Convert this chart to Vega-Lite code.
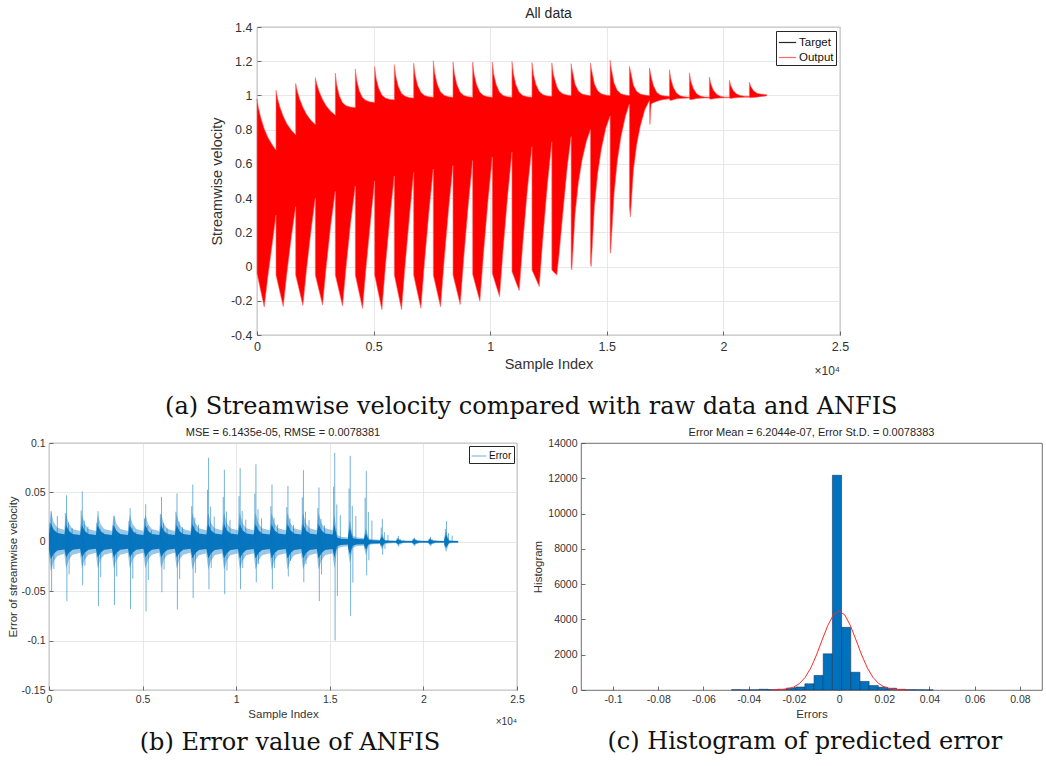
{
  "$schema": "https://vega.github.io/schema/vega-lite/v6.json",
  "background": "white",
  "padding": {"left": 6, "top": 6, "right": 0, "bottom": 0},
  "datasets": {
    "top": [
      {"x":0,"lo":-0.04,"hi":0.98},{"x":65,"lo":-0.081,"hi":0.926},{"x":170,"lo":-0.148,"hi":0.866},{"x":310,"lo":-0.236,"hi":0.806},{"x":465,"lo":-0.059,"hi":0.755},{"x":660,"lo":0.139,"hi":0.71},{"x":814,"lo":0.3,"hi":0.68},
      {"x":815,"lo":-0.05,"hi":1.03},{"x":880,"lo":-0.089,"hi":0.983},{"x":985,"lo":-0.151,"hi":0.931},{"x":1125,"lo":-0.234,"hi":0.879},{"x":1280,"lo":-0.041,"hi":0.835},{"x":1475,"lo":0.175,"hi":0.796},{"x":1657,"lo":0.35,"hi":0.77},
      {"x":1658,"lo":-0.05,"hi":1.07},{"x":1723,"lo":-0.087,"hi":1.027},{"x":1828,"lo":-0.147,"hi":0.979},{"x":1968,"lo":-0.227,"hi":0.931},{"x":2123,"lo":-0.02,"hi":0.89},{"x":2318,"lo":0.212,"hi":0.854},{"x":2500,"lo":0.4,"hi":0.83},
      {"x":2501,"lo":-0.05,"hi":1.105},{"x":2566,"lo":-0.087,"hi":1.065},{"x":2671,"lo":-0.146,"hi":1.021},{"x":2811,"lo":-0.225,"hi":0.977},{"x":2966,"lo":-0.006,"hi":0.94},{"x":3161,"lo":0.241,"hi":0.907},{"x":3357,"lo":0.44,"hi":0.885},
      {"x":3358,"lo":-0.05,"hi":1.13},{"x":3423,"lo":-0.088,"hi":1.06},{"x":3528,"lo":-0.149,"hi":1.0},{"x":3668,"lo":-0.23,"hi":0.958},{"x":3823,"lo":0.001,"hi":0.94},{"x":4018,"lo":0.26,"hi":0.932},{"x":4215,"lo":0.47,"hi":0.93},
      {"x":4216,"lo":-0.05,"hi":1.155},{"x":4281,"lo":-0.091,"hi":1.087},{"x":4386,"lo":-0.157,"hi":1.028},{"x":4526,"lo":-0.245,"hi":0.987},{"x":4681,"lo":0.001,"hi":0.97},{"x":4876,"lo":0.277,"hi":0.962},{"x":5044,"lo":0.5,"hi":0.96},
      {"x":5045,"lo":-0.05,"hi":1.168},{"x":5110,"lo":-0.092,"hi":1.1},{"x":5215,"lo":-0.161,"hi":1.043},{"x":5355,"lo":-0.252,"hi":1.002},{"x":5510,"lo":0.006,"hi":0.985},{"x":5705,"lo":0.295,"hi":0.977},{"x":5888,"lo":0.53,"hi":0.975},
      {"x":5889,"lo":-0.05,"hi":1.18},{"x":5954,"lo":-0.092,"hi":1.112},{"x":6059,"lo":-0.161,"hi":1.053},{"x":6199,"lo":-0.252,"hi":1.012},{"x":6354,"lo":0.013,"hi":0.995},{"x":6549,"lo":0.309,"hi":0.987},{"x":6717,"lo":0.55,"hi":0.985},
      {"x":6718,"lo":-0.05,"hi":1.188},{"x":6783,"lo":-0.091,"hi":1.119},{"x":6888,"lo":-0.157,"hi":1.059},{"x":7028,"lo":-0.244,"hi":1.018},{"x":7183,"lo":0.025,"hi":1.0},{"x":7378,"lo":0.326,"hi":0.992},{"x":7560,"lo":0.57,"hi":0.99},
      {"x":7561,"lo":-0.05,"hi":1.203},{"x":7626,"lo":-0.089,"hi":1.128},{"x":7731,"lo":-0.152,"hi":1.065},{"x":7871,"lo":-0.236,"hi":1.02},{"x":8026,"lo":0.037,"hi":1.001},{"x":8221,"lo":0.342,"hi":0.992},{"x":8404,"lo":0.59,"hi":0.99},
      {"x":8405,"lo":-0.05,"hi":1.196},{"x":8470,"lo":-0.086,"hi":1.124},{"x":8575,"lo":-0.145,"hi":1.062},{"x":8715,"lo":-0.222,"hi":1.019},{"x":8870,"lo":0.056,"hi":1.0},{"x":9065,"lo":0.367,"hi":0.992},{"x":9247,"lo":0.62,"hi":0.99},
      {"x":9248,"lo":-0.045,"hi":1.195},{"x":9313,"lo":-0.078,"hi":1.123},{"x":9418,"lo":-0.132,"hi":1.062},{"x":9558,"lo":-0.203,"hi":1.019},{"x":9713,"lo":0.075,"hi":1.0},{"x":9908,"lo":0.387,"hi":0.992},{"x":10090,"lo":0.64,"hi":0.99},
      {"x":10091,"lo":-0.04,"hi":1.195},{"x":10156,"lo":-0.069,"hi":1.123},{"x":10261,"lo":-0.115,"hi":1.062},{"x":10401,"lo":-0.176,"hi":1.019},{"x":10556,"lo":0.103,"hi":1.0},{"x":10751,"lo":0.416,"hi":0.992},{"x":10933,"lo":0.67,"hi":0.99},
      {"x":10934,"lo":-0.03,"hi":1.198},{"x":10999,"lo":-0.053,"hi":1.125},{"x":11104,"lo":-0.091,"hi":1.063},{"x":11244,"lo":-0.14,"hi":1.019},{"x":11399,"lo":0.137,"hi":1.0},{"x":11594,"lo":0.448,"hi":0.992},{"x":11791,"lo":0.7,"hi":0.99},
      {"x":11792,"lo":-0.02,"hi":1.192},{"x":11857,"lo":-0.04,"hi":1.123},{"x":11962,"lo":-0.073,"hi":1.064},{"x":12102,"lo":-0.117,"hi":1.023},{"x":12257,"lo":0.163,"hi":1.005},{"x":12452,"lo":0.476,"hi":0.997},{"x":12642,"lo":0.73,"hi":0.995},
      {"x":12643,"lo":-0.02,"hi":1.19},{"x":12708,"lo":-0.03,"hi":1.124},{"x":12857,"lo":-0.05,"hi":1.053},{"x":12953,"lo":0.07,"hi":1.027},{"x":13108,"lo":0.3,"hi":1.01},{"x":13303,"lo":0.58,"hi":1.002},{"x":13470,"lo":0.76,"hi":1.0},
      {"x":13471,"lo":0.0,"hi":1.186},{"x":13501,"lo":-0.02,"hi":1.16},{"x":13641,"lo":0.308,"hi":1.065},{"x":13781,"lo":0.488,"hi":1.026},{"x":13936,"lo":0.62,"hi":1.009},{"x":14131,"lo":0.734,"hi":1.002},{"x":14299,"lo":0.8,"hi":1.0},
      {"x":14300,"lo":0.02,"hi":1.19},{"x":14330,"lo":0.0,"hi":1.163},{"x":14470,"lo":0.352,"hi":1.067},{"x":14610,"lo":0.546,"hi":1.027},{"x":14765,"lo":0.686,"hi":1.01},{"x":14960,"lo":0.81,"hi":1.002},{"x":15142,"lo":0.88,"hi":1.0},
      {"x":15143,"lo":0.1,"hi":1.206},{"x":15163,"lo":0.078,"hi":1.18},{"x":15313,"lo":0.427,"hi":1.072},{"x":15453,"lo":0.619,"hi":1.029},{"x":15608,"lo":0.758,"hi":1.01},{"x":15803,"lo":0.88,"hi":1.002},{"x":15970,"lo":0.95,"hi":1.0},
      {"x":15971,"lo":0.35,"hi":1.171},{"x":16011,"lo":0.29,"hi":1.147},{"x":16141,"lo":0.562,"hi":1.06},{"x":16281,"lo":0.712,"hi":1.024},{"x":16436,"lo":0.82,"hi":1.009},{"x":16631,"lo":0.916,"hi":1.002},{"x":16828,"lo":0.97,"hi":1.0},
      {"x":16829,"lo":0.96,"hi":1.161},{"x":16849,"lo":0.83,"hi":1.152},{"x":16900,"lo":0.95,"hi":1.111},{"x":17000,"lo":0.958,"hi":1.058},{"x":17139,"lo":0.965,"hi":1.018},{"x":17294,"lo":0.972,"hi":1.003},{"x":17489,"lo":0.977,"hi":0.997},{"x":17685,"lo":0.98,"hi":0.995},
      {"x":17686,"lo":0.975,"hi":1.151},{"x":17751,"lo":0.97,"hi":1.095},{"x":17856,"lo":0.975,"hi":1.046},{"x":17996,"lo":0.98,"hi":1.013},{"x":18151,"lo":0.982,"hi":0.998},{"x":18346,"lo":0.984,"hi":0.992},{"x":18542,"lo":0.985,"hi":0.99},
      {"x":18543,"lo":0.978,"hi":1.132},{"x":18608,"lo":0.975,"hi":1.082},{"x":18713,"lo":0.978,"hi":1.04},{"x":18853,"lo":0.982,"hi":1.01},{"x":19008,"lo":0.984,"hi":0.997},{"x":19203,"lo":0.985,"hi":0.991},{"x":19399,"lo":0.985,"hi":0.99},
      {"x":19400,"lo":0.98,"hi":1.108},{"x":19465,"lo":0.978,"hi":1.067},{"x":19570,"lo":0.98,"hi":1.031},{"x":19710,"lo":0.983,"hi":1.007},{"x":19865,"lo":0.985,"hi":0.996},{"x":20060,"lo":0.986,"hi":0.991},{"x":20256,"lo":0.986,"hi":0.99},
      {"x":20257,"lo":0.985,"hi":1.089},{"x":20322,"lo":0.982,"hi":1.056},{"x":20427,"lo":0.985,"hi":1.028},{"x":20567,"lo":0.987,"hi":1.008},{"x":20722,"lo":0.988,"hi":1.0},{"x":20917,"lo":0.989,"hi":0.996},{"x":21113,"lo":0.99,"hi":0.995},
      {"x":21114,"lo":0.988,"hi":1.077},{"x":21179,"lo":0.986,"hi":1.052},{"x":21284,"lo":0.988,"hi":1.029},{"x":21424,"lo":0.99,"hi":1.014},{"x":21579,"lo":0.993,"hi":1.008},{"x":21774,"lo":0.996,"hi":1.006},{"x":21857,"lo":0.998,"hi":1.005}
    ],
    "err": [
      {"x":0,"olo":-0.0132,"ohi":0.0132,"ilo":-0.0077,"ihi":0.0077},{"x":100,"olo":-0.0297,"ohi":0.0308,"ilo":-0.0176,"ihi":0.0187},{"x":250,"olo":-0.0198,"ohi":0.0198,"ilo":-0.0121,"ihi":0.0121},{"x":450,"olo":-0.0143,"ohi":0.0143,"ilo":-0.0088,"ihi":0.0088},{"x":814,"olo":-0.0121,"ohi":0.0121,"ilo":-0.0077,"ihi":0.0077},
      {"x":815,"olo":-0.012,"ohi":0.012,"ilo":-0.007,"ihi":0.007},{"x":915,"olo":-0.027,"ohi":0.028,"ilo":-0.016,"ihi":0.017},{"x":1065,"olo":-0.018,"ohi":0.018,"ilo":-0.011,"ihi":0.011},{"x":1265,"olo":-0.013,"ohi":0.013,"ilo":-0.008,"ihi":0.008},{"x":1657,"olo":-0.011,"ohi":0.011,"ilo":-0.007,"ihi":0.007},
      {"x":1658,"olo":-0.012,"ohi":0.012,"ilo":-0.007,"ihi":0.007},{"x":1758,"olo":-0.027,"ohi":0.028,"ilo":-0.016,"ihi":0.017},{"x":1908,"olo":-0.018,"ohi":0.018,"ilo":-0.011,"ihi":0.011},{"x":2108,"olo":-0.013,"ohi":0.013,"ilo":-0.008,"ihi":0.008},{"x":2500,"olo":-0.011,"ohi":0.011,"ilo":-0.007,"ihi":0.007},
      {"x":2501,"olo":-0.012,"ohi":0.012,"ilo":-0.007,"ihi":0.007},{"x":2601,"olo":-0.027,"ohi":0.028,"ilo":-0.016,"ihi":0.017},{"x":2751,"olo":-0.018,"ohi":0.018,"ilo":-0.011,"ihi":0.011},{"x":2951,"olo":-0.013,"ohi":0.013,"ilo":-0.008,"ihi":0.008},{"x":3357,"olo":-0.011,"ohi":0.011,"ilo":-0.007,"ihi":0.007},
      {"x":3358,"olo":-0.012,"ohi":0.012,"ilo":-0.007,"ihi":0.007},{"x":3458,"olo":-0.027,"ohi":0.028,"ilo":-0.016,"ihi":0.017},{"x":3608,"olo":-0.018,"ohi":0.018,"ilo":-0.011,"ihi":0.011},{"x":3808,"olo":-0.013,"ohi":0.013,"ilo":-0.008,"ihi":0.008},{"x":4215,"olo":-0.011,"ohi":0.011,"ilo":-0.007,"ihi":0.007},
      {"x":4216,"olo":-0.012,"ohi":0.012,"ilo":-0.007,"ihi":0.007},{"x":4316,"olo":-0.027,"ohi":0.028,"ilo":-0.016,"ihi":0.017},{"x":4466,"olo":-0.018,"ohi":0.018,"ilo":-0.011,"ihi":0.011},{"x":4666,"olo":-0.013,"ohi":0.013,"ilo":-0.008,"ihi":0.008},{"x":5044,"olo":-0.011,"ohi":0.011,"ilo":-0.007,"ihi":0.007},
      {"x":5045,"olo":-0.012,"ohi":0.012,"ilo":-0.007,"ihi":0.007},{"x":5145,"olo":-0.027,"ohi":0.028,"ilo":-0.016,"ihi":0.017},{"x":5295,"olo":-0.018,"ohi":0.018,"ilo":-0.011,"ihi":0.011},{"x":5495,"olo":-0.013,"ohi":0.013,"ilo":-0.008,"ihi":0.008},{"x":5888,"olo":-0.011,"ohi":0.011,"ilo":-0.007,"ihi":0.007},
      {"x":5889,"olo":-0.012,"ohi":0.012,"ilo":-0.007,"ihi":0.007},{"x":5989,"olo":-0.027,"ohi":0.028,"ilo":-0.016,"ihi":0.017},{"x":6139,"olo":-0.018,"ohi":0.018,"ilo":-0.011,"ihi":0.011},{"x":6339,"olo":-0.013,"ohi":0.013,"ilo":-0.008,"ihi":0.008},{"x":6717,"olo":-0.011,"ohi":0.011,"ilo":-0.007,"ihi":0.007},
      {"x":6718,"olo":-0.012,"ohi":0.012,"ilo":-0.007,"ihi":0.007},{"x":6818,"olo":-0.027,"ohi":0.028,"ilo":-0.016,"ihi":0.017},{"x":6968,"olo":-0.018,"ohi":0.018,"ilo":-0.011,"ihi":0.011},{"x":7168,"olo":-0.013,"ohi":0.013,"ilo":-0.008,"ihi":0.008},{"x":7560,"olo":-0.011,"ohi":0.011,"ilo":-0.007,"ihi":0.007},
      {"x":7561,"olo":-0.0126,"ohi":0.0126,"ilo":-0.0074,"ihi":0.0074},{"x":7661,"olo":-0.0284,"ohi":0.0294,"ilo":-0.0168,"ihi":0.0179},{"x":7811,"olo":-0.0189,"ohi":0.0189,"ilo":-0.0116,"ihi":0.0116},{"x":8011,"olo":-0.0137,"ohi":0.0137,"ilo":-0.0084,"ihi":0.0084},{"x":8404,"olo":-0.0116,"ohi":0.0116,"ilo":-0.0074,"ihi":0.0074},
      {"x":8405,"olo":-0.0126,"ohi":0.0126,"ilo":-0.0074,"ihi":0.0074},{"x":8505,"olo":-0.0284,"ohi":0.0294,"ilo":-0.0168,"ihi":0.0179},{"x":8655,"olo":-0.0189,"ohi":0.0189,"ilo":-0.0116,"ihi":0.0116},{"x":8855,"olo":-0.0137,"ohi":0.0137,"ilo":-0.0084,"ihi":0.0084},{"x":9247,"olo":-0.0116,"ohi":0.0116,"ilo":-0.0074,"ihi":0.0074},
      {"x":9248,"olo":-0.0126,"ohi":0.0126,"ilo":-0.0074,"ihi":0.0074},{"x":9348,"olo":-0.0284,"ohi":0.0294,"ilo":-0.0168,"ihi":0.0179},{"x":9498,"olo":-0.0189,"ohi":0.0189,"ilo":-0.0116,"ihi":0.0116},{"x":9698,"olo":-0.0137,"ohi":0.0137,"ilo":-0.0084,"ihi":0.0084},{"x":10090,"olo":-0.0116,"ohi":0.0116,"ilo":-0.0074,"ihi":0.0074},
      {"x":10091,"olo":-0.0126,"ohi":0.0126,"ilo":-0.0074,"ihi":0.0074},{"x":10191,"olo":-0.0284,"ohi":0.0294,"ilo":-0.0168,"ihi":0.0179},{"x":10341,"olo":-0.0189,"ohi":0.0189,"ilo":-0.0116,"ihi":0.0116},{"x":10541,"olo":-0.0137,"ohi":0.0137,"ilo":-0.0084,"ihi":0.0084},{"x":10933,"olo":-0.0116,"ohi":0.0116,"ilo":-0.0074,"ihi":0.0074},
      {"x":10934,"olo":-0.0126,"ohi":0.0126,"ilo":-0.0074,"ihi":0.0074},{"x":11034,"olo":-0.0284,"ohi":0.0294,"ilo":-0.0168,"ihi":0.0179},{"x":11184,"olo":-0.0189,"ohi":0.0189,"ilo":-0.0116,"ihi":0.0116},{"x":11384,"olo":-0.0137,"ohi":0.0137,"ilo":-0.0084,"ihi":0.0084},{"x":11791,"olo":-0.0116,"ohi":0.0116,"ilo":-0.0074,"ihi":0.0074},
      {"x":11792,"olo":-0.0126,"ohi":0.0126,"ilo":-0.0074,"ihi":0.0074},{"x":11892,"olo":-0.0284,"ohi":0.0294,"ilo":-0.0168,"ihi":0.0179},{"x":12042,"olo":-0.0189,"ohi":0.0189,"ilo":-0.0116,"ihi":0.0116},{"x":12242,"olo":-0.0137,"ohi":0.0137,"ilo":-0.0084,"ihi":0.0084},{"x":12642,"olo":-0.0116,"ohi":0.0116,"ilo":-0.0074,"ihi":0.0074},
      {"x":12643,"olo":-0.0126,"ohi":0.0126,"ilo":-0.0074,"ihi":0.0074},{"x":12743,"olo":-0.0284,"ohi":0.0294,"ilo":-0.0168,"ihi":0.0179},{"x":12893,"olo":-0.0189,"ohi":0.0189,"ilo":-0.0116,"ihi":0.0116},{"x":13093,"olo":-0.0137,"ohi":0.0137,"ilo":-0.0084,"ihi":0.0084},{"x":13470,"olo":-0.0116,"ohi":0.0116,"ilo":-0.0074,"ihi":0.0074},
      {"x":13471,"olo":-0.0126,"ohi":0.0126,"ilo":-0.0074,"ihi":0.0074},{"x":13571,"olo":-0.0284,"ohi":0.0294,"ilo":-0.0168,"ihi":0.0179},{"x":13721,"olo":-0.0189,"ohi":0.0189,"ilo":-0.0116,"ihi":0.0116},{"x":13921,"olo":-0.0137,"ohi":0.0137,"ilo":-0.0084,"ihi":0.0084},{"x":14299,"olo":-0.0116,"ohi":0.0116,"ilo":-0.0074,"ihi":0.0074},
      {"x":14300,"olo":-0.0126,"ohi":0.0126,"ilo":-0.0074,"ihi":0.0074},{"x":14400,"olo":-0.0284,"ohi":0.0294,"ilo":-0.0168,"ihi":0.0179},{"x":14550,"olo":-0.0189,"ohi":0.0189,"ilo":-0.0116,"ihi":0.0116},{"x":14750,"olo":-0.0137,"ohi":0.0137,"ilo":-0.0084,"ihi":0.0084},{"x":15142,"olo":-0.0116,"ohi":0.0116,"ilo":-0.0074,"ihi":0.0074},
      {"x":15143,"olo":-0.012,"ohi":0.012,"ilo":-0.007,"ihi":0.007},{"x":15243,"olo":-0.027,"ohi":0.028,"ilo":-0.016,"ihi":0.017},{"x":15393,"olo":-0.0072,"ohi":0.0072,"ilo":-0.0044,"ihi":0.0044},{"x":15593,"olo":-0.0052,"ohi":0.0052,"ilo":-0.0032,"ihi":0.0032},{"x":15970,"olo":-0.0044,"ohi":0.0044,"ilo":-0.0028,"ihi":0.0028},
      {"x":15971,"olo":-0.0096,"ohi":0.0096,"ilo":-0.0056,"ihi":0.0056},{"x":16071,"olo":-0.0216,"ohi":0.0224,"ilo":-0.0128,"ihi":0.0136},{"x":16221,"olo":-0.0063,"ohi":0.0063,"ilo":-0.0039,"ihi":0.0039},{"x":16421,"olo":-0.0046,"ohi":0.0046,"ilo":-0.0028,"ihi":0.0028},{"x":16828,"olo":-0.0039,"ohi":0.0039,"ilo":-0.0025,"ihi":0.0025},
      {"x":16829,"olo":-0.006,"ohi":0.006,"ilo":-0.0035,"ihi":0.0035},{"x":16929,"olo":-0.0135,"ohi":0.014,"ilo":-0.008,"ihi":0.0085},{"x":17079,"olo":-0.0036,"ohi":0.0036,"ilo":-0.0022,"ihi":0.0022},{"x":17279,"olo":-0.0026,"ohi":0.0026,"ilo":-0.0016,"ihi":0.0016},{"x":17685,"olo":-0.0022,"ohi":0.0022,"ilo":-0.0014,"ihi":0.0014},
      {"x":17686,"olo":-0.0036,"ohi":0.0036,"ilo":-0.0021,"ihi":0.0021},{"x":17786,"olo":-0.0081,"ohi":0.0084,"ilo":-0.0048,"ihi":0.0051},{"x":17936,"olo":-0.0022,"ohi":0.0022,"ilo":-0.0013,"ihi":0.0013},{"x":18136,"olo":-0.0016,"ohi":0.0016,"ilo":-0.001,"ihi":0.001},{"x":18542,"olo":-0.0013,"ohi":0.0013,"ilo":-0.0008,"ihi":0.0008},
      {"x":18543,"olo":-0.0018,"ohi":0.0018,"ilo":-0.001,"ihi":0.001},{"x":18643,"olo":-0.004,"ohi":0.0042,"ilo":-0.0024,"ihi":0.0026},{"x":18793,"olo":-0.0018,"ohi":0.0018,"ilo":-0.0011,"ihi":0.0011},{"x":18993,"olo":-0.0013,"ohi":0.0013,"ilo":-0.0008,"ihi":0.0008},{"x":19399,"olo":-0.0011,"ohi":0.0011,"ilo":-0.0007,"ihi":0.0007},
      {"x":19400,"olo":-0.0018,"ohi":0.0018,"ilo":-0.001,"ihi":0.001},{"x":19500,"olo":-0.004,"ohi":0.0042,"ilo":-0.0024,"ihi":0.0026},{"x":19650,"olo":-0.0018,"ohi":0.0018,"ilo":-0.0011,"ihi":0.0011},{"x":19850,"olo":-0.0013,"ohi":0.0013,"ilo":-0.0008,"ihi":0.0008},{"x":20256,"olo":-0.0011,"ohi":0.0011,"ilo":-0.0007,"ihi":0.0007},
      {"x":20257,"olo":-0.0018,"ohi":0.0018,"ilo":-0.001,"ihi":0.001},{"x":20357,"olo":-0.004,"ohi":0.0042,"ilo":-0.0024,"ihi":0.0026},{"x":20507,"olo":-0.0018,"ohi":0.0018,"ilo":-0.0011,"ihi":0.0011},{"x":20707,"olo":-0.0013,"ohi":0.0013,"ilo":-0.0008,"ihi":0.0008},{"x":21113,"olo":-0.0011,"ohi":0.0011,"ilo":-0.0007,"ihi":0.0007},
      {"x":21114,"olo":-0.0048,"ohi":0.0048,"ilo":-0.0028,"ihi":0.0028},{"x":21214,"olo":-0.0108,"ohi":0.0112,"ilo":-0.0064,"ihi":0.0068},{"x":21364,"olo":-0.0018,"ohi":0.0018,"ilo":-0.0011,"ihi":0.0011},{"x":21564,"olo":-0.0013,"ohi":0.0013,"ilo":-0.0008,"ihi":0.0008},{"x":21857,"olo":-0.0011,"ohi":0.0011,"ilo":-0.0007,"ihi":0.0007}
    ],
    "spk": [
      {"x":60,"v":0.0192},{"x":120,"v":0.031},{"x":230,"v":0.013},{"x":140,"v":-0.05},{"x":260,"v":-0.0275},{"x":445,"v":0.026},
      {"x":875,"v":0.0291},{"x":935,"v":0.047},{"x":1045,"v":0.0197},{"x":955,"v":-0.06},{"x":1075,"v":-0.033},{"x":1235,"v":0.0141},
      {"x":1718,"v":0.0316},{"x":1778,"v":0.051},{"x":1888,"v":0.0214},{"x":1798,"v":-0.044},{"x":1918,"v":-0.0242},{"x":2078,"v":0.0153},
      {"x":2561,"v":0.0192},{"x":2621,"v":0.031},{"x":2731,"v":0.013},{"x":2641,"v":-0.065},{"x":2761,"v":-0.0358},{"x":2921,"v":0.0093},
      {"x":3418,"v":0.0161},{"x":3478,"v":0.026},{"x":3588,"v":0.0109},{"x":3498,"v":-0.064},{"x":3618,"v":-0.0352},{"x":3778,"v":0.0078},
      {"x":4276,"v":0.0211},{"x":4336,"v":0.034},{"x":4446,"v":0.0143},{"x":4356,"v":-0.068},{"x":4476,"v":-0.0374},{"x":4636,"v":0.0102},
      {"x":5105,"v":0.0236},{"x":5165,"v":0.038},{"x":5275,"v":0.016},{"x":5185,"v":-0.0705},{"x":5305,"v":-0.0388},{"x":5465,"v":0.0114},
      {"x":5949,"v":0.0282},{"x":6009,"v":0.0455},{"x":6119,"v":0.0191},{"x":6029,"v":-0.051},{"x":6149,"v":-0.028},{"x":6309,"v":0.0137},
      {"x":6778,"v":0.0304},{"x":6838,"v":0.049},{"x":6948,"v":0.0206},{"x":6858,"v":-0.0685},{"x":6978,"v":-0.0377},{"x":7138,"v":0.0147},
      {"x":7621,"v":0.036},{"x":7681,"v":0.058},{"x":7791,"v":0.0244},{"x":7701,"v":-0.057},{"x":7821,"v":-0.0314},{"x":7981,"v":0.0174},
      {"x":8465,"v":0.0527},{"x":8525,"v":0.085},{"x":8635,"v":0.0357},{"x":8545,"v":-0.048},{"x":8665,"v":-0.0264},{"x":8825,"v":0.0255},
      {"x":9308,"v":0.0453},{"x":9368,"v":0.073},{"x":9478,"v":0.0307},{"x":9388,"v":-0.053},{"x":9508,"v":-0.0292},{"x":9668,"v":0.0219},
      {"x":10151,"v":0.0462},{"x":10211,"v":0.0745},{"x":10321,"v":0.0313},{"x":10231,"v":-0.048},{"x":10351,"v":-0.0264},{"x":10511,"v":0.0224},
      {"x":10994,"v":0.0487},{"x":11054,"v":0.0785},{"x":11164,"v":0.033},{"x":11074,"v":-0.041},{"x":11194,"v":-0.0226},{"x":11354,"v":0.0236},
      {"x":11852,"v":0.036},{"x":11912,"v":0.058},{"x":12022,"v":0.0244},{"x":11932,"v":-0.048},{"x":12052,"v":-0.0264},{"x":12212,"v":0.0174},
      {"x":12703,"v":0.0351},{"x":12763,"v":0.0566},{"x":12873,"v":0.0238},{"x":12783,"v":-0.035},{"x":12903,"v":-0.0193},{"x":13063,"v":0.017},
      {"x":13531,"v":0.045},{"x":13591,"v":0.0725},{"x":13701,"v":0.0305},{"x":13611,"v":-0.041},{"x":13731,"v":-0.0226},{"x":13891,"v":0.0218},
      {"x":14360,"v":0.0341},{"x":14420,"v":0.055},{"x":14530,"v":0.0231},{"x":14440,"v":-0.06},{"x":14560,"v":-0.033},{"x":14720,"v":0.0165},
      {"x":15203,"v":0.0558},{"x":15263,"v":0.09},{"x":15373,"v":0.0378},{"x":15283,"v":-0.1},{"x":15403,"v":-0.055},{"x":15563,"v":0.027},
      {"x":16031,"v":0.0539},{"x":16091,"v":0.087},{"x":16201,"v":0.0365},{"x":16111,"v":-0.075},{"x":16231,"v":-0.0413},{"x":16391,"v":0.0261},
      {"x":16889,"v":0.0445},{"x":16949,"v":0.0717},{"x":17059,"v":0.0301},{"x":16969,"v":-0.034},{"x":17089,"v":-0.0187},{"x":17249,"v":0.0215},
      {"x":17746,"v":0.0143},{"x":17806,"v":0.023},{"x":17916,"v":0.0097},{"x":17826,"v":-0.013},{"x":17946,"v":-0.0072},{"x":18106,"v":0.0069},
      {"x":18603,"v":0.0037},{"x":18663,"v":0.006},{"x":18773,"v":0.0025},{"x":18683,"v":-0.005},{"x":18803,"v":-0.0028},{"x":18963,"v":0.0018},
      {"x":19460,"v":0.0025},{"x":19520,"v":0.004},{"x":19630,"v":0.0017},{"x":19540,"v":-0.004},{"x":19660,"v":-0.0022},{"x":19820,"v":0.0012},
      {"x":20317,"v":0.0031},{"x":20377,"v":0.005},{"x":20487,"v":0.0021},{"x":20397,"v":-0.004},{"x":20517,"v":-0.0022},{"x":20677,"v":0.0015},
      {"x":21174,"v":0.013},{"x":21234,"v":0.021},{"x":21344,"v":0.0088},{"x":21254,"v":-0.003},{"x":21374,"v":-0.0017},{"x":21534,"v":0.0063}
    ],
    "hist": [
      {"x0":-0.04761,"x1":-0.04355,"count":15},{"x0":-0.04355,"x1":-0.03949,"count":5},{"x0":-0.03949,"x1":-0.03543,"count":10},{"x0":-0.03543,"x1":-0.03137,"count":40},
      {"x0":-0.03137,"x1":-0.02731,"count":20},{"x0":-0.02731,"x1":-0.02325,"count":45},{"x0":-0.02325,"x1":-0.01919,"count":110},{"x0":-0.01919,"x1":-0.01513,"count":170},
      {"x0":-0.01513,"x1":-0.01107,"count":350},{"x0":-0.01107,"x1":-0.00701,"count":825},{"x0":-0.00701,"x1":-0.00295,"count":2050},{"x0":-0.00295,"x1":0.00111,"count":12170},
      {"x0":0.00111,"x1":0.00517,"count":3550},{"x0":0.00517,"x1":0.00923,"count":1005},{"x0":0.00923,"x1":0.01329,"count":485},{"x0":0.01329,"x1":0.01735,"count":250},
      {"x0":0.01735,"x1":0.02141,"count":160},{"x0":0.02141,"x1":0.02547,"count":100},{"x0":0.02547,"x1":0.02953,"count":40},{"x0":0.02953,"x1":0.03359,"count":15},
      {"x0":0.03359,"x1":0.03765,"count":10},{"x0":0.03765,"x1":0.04171,"count":5}
    ],
    "curve": [
      {"e":-0.03,"f":3},{"e":-0.0275,"f":9},{"e":-0.025,"f":28},{"e":-0.0225,"f":73},{"e":-0.02,"f":172},{"e":-0.0175,"f":370},{"e":-0.015,"f":717},{"e":-0.0125,"f":1254},{"e":-0.01,"f":1985},{"e":-0.0075,"f":2834},{"e":-0.005,"f":3656},{"e":-0.0025,"f":4258},
      {"e":0,"f":4480},
      {"e":0.0025,"f":4258},{"e":0.005,"f":3656},{"e":0.0075,"f":2834},{"e":0.01,"f":1985},{"e":0.0125,"f":1254},{"e":0.015,"f":717},{"e":0.0175,"f":370},{"e":0.02,"f":172},{"e":0.0225,"f":73},{"e":0.025,"f":28},{"e":0.0275,"f":9},{"e":0.03,"f":3}
    ]
  },
  "vconcat": [
    {
      "hconcat": [
        {"width": 116, "height": 10, "data": {"values": []}, "mark": "point", "view": {"stroke": null}},
        {
          "vconcat": [
            {
              "width": 583, "height": 308,
              "title": {"text": "All data", "fontSize": 14, "offset": 0},
              "layer": [
                {
                  "data": {"name": "top"},
                  "mark": {"type": "area", "fill": "#ff0000", "strokeWidth": 0.6},
                  "encoding": {
                    "x": {"field": "x", "type": "quantitative", "title": "Sample Index", "scale": {"domain": [0, 25000], "nice": false, "zero": false},
                          "axis": {"values": [0, 5000, 10000, 15000, 20000, 25000], "tickCount": 30, "labelExpr": "toString(datum.value/10000)", "grid": true, "labelFontSize": 12.5, "titleFontSize": 14.5, "labelPadding": 9, "titlePadding": 5}},
                    "y": {"field": "lo", "type": "quantitative", "title": "Streamwise velocity", "scale": {"domain": [-0.4, 1.4], "nice": false, "zero": false},
                          "axis": {"values": [-0.4, -0.2, 0, 0.2, 0.4, 0.6, 0.8, 1, 1.2, 1.4], "tickCount": 30, "labelExpr": "toString(datum.value)", "grid": true, "labelFontSize": 12.5, "titleFontSize": 14.5, "labelPadding": 9, "titlePadding": 6}},
                    "y2": {"field": "hi"},
                    "stroke": {"datum": "Output", "scale": {"domain": ["Target", "Output"], "range": ["#262626", "#ff6a6a"]},
                               "legend": {"title": null, "orient": "top-right", "offset": 4, "padding": 2, "strokeColor": "#262626", "fillColor": "white", "labelFontSize": 11.5, "symbolType": "stroke", "symbolSize": 300, "symbolStrokeWidth": 1.2, "rowPadding": 0, "labelOffset": 2}}
                  }
                },
                {
                  "data": {"values": [{}]},
                  "mark": {"type": "text", "align": "right", "baseline": "top", "dy": 31, "fontSize": 12, "color": "#333333"},
                  "encoding": {"x": {"datum": 25000}, "y": {"datum": -0.4}, "text": {"value": "×10⁴"}}
                }
              ]
            }
          ],
          "resolve": {"scale": {"stroke": "independent"}, "legend": {"stroke": "independent"}},
          "title": {"text": "(a) Streamwise velocity compared with raw data and ANFIS", "orient": "bottom", "font": "DejaVu Serif", "fontSize": 24, "color": "#111111", "offset": 18, "dx": -44}
        }
      ],
      "spacing": 0,
      "resolve": {"scale": {"stroke": "independent"}, "legend": {"stroke": "independent"}}
    },
    {
      "hconcat": [
        {
          "vconcat": [
            {
              "width": 468, "height": 247,
              "title": {"text": "MSE = 6.1435e-05, RMSE = 0.0078381", "fontSize": 11, "offset": 0},
              "layer": [
                {
                  "data": {"name": "err"},
                  "mark": {"type": "area", "color": "#0072BD", "opacity": 0.4},
                  "encoding": {
                    "x": {"field": "x", "type": "quantitative", "title": "Sample Index", "scale": {"domain": [0, 25000], "nice": false, "zero": false},
                          "axis": {"values": [0, 5000, 10000, 15000, 20000, 25000], "tickCount": 30, "labelExpr": "toString(datum.value/10000)", "grid": true, "labelFontSize": 10.5, "titleFontSize": 11.5, "labelPadding": 8, "titlePadding": 4}},
                    "y": {"field": "olo", "type": "quantitative", "title": "Error of streamwise velocity", "scale": {"domain": [-0.15, 0.1], "nice": false, "zero": false},
                          "axis": {"values": [-0.15, -0.1, -0.05, 0, 0.05, 0.1], "tickCount": 30, "labelExpr": "toString(datum.value)", "grid": true, "labelFontSize": 10.5, "titleFontSize": 11.5, "labelPadding": 8, "titlePadding": 3}},
                    "y2": {"field": "ohi"}
                  }
                },
                {
                  "data": {"name": "err"},
                  "mark": {"type": "area", "color": "#0072BD", "opacity": 0.95},
                  "encoding": {
                    "x": {"field": "x", "type": "quantitative", "title": "Sample Index", "scale": {"domain": [0, 25000], "nice": false, "zero": false}},
                    "y": {"field": "ilo", "type": "quantitative", "title": "Error of streamwise velocity", "scale": {"domain": [-0.15, 0.1], "nice": false, "zero": false}},
                    "y2": {"field": "ihi"}
                  }
                },
                {
                  "data": {"name": "spk"},
                  "mark": {"type": "rule", "strokeWidth": 1, "opacity": 0.55},
                  "encoding": {
                    "x": {"field": "x", "type": "quantitative", "title": "Sample Index", "scale": {"domain": [0, 25000], "nice": false, "zero": false}},
                    "y": {"field": "v", "type": "quantitative", "title": "Error of streamwise velocity", "scale": {"domain": [-0.15, 0.1], "nice": false, "zero": false}},
                    "y2": {"datum": 0},
                    "stroke": {"datum": "Error", "scale": {"domain": ["Error"], "range": ["#0072BD"]},
                               "legend": {"title": null, "orient": "top-right", "offset": 3, "padding": 2, "strokeColor": "#262626", "fillColor": "white", "labelFontSize": 10, "symbolType": "stroke", "symbolSize": 220, "symbolStrokeWidth": 1, "labelOffset": 2}}
                  }
                },
                {
                  "data": {"values": [{}]},
                  "mark": {"type": "text", "align": "right", "baseline": "top", "dy": 27, "fontSize": 10, "color": "#333333"},
                  "encoding": {"x": {"datum": 25000}, "y": {"datum": -0.15}, "text": {"value": "×10⁴"}}
                }
              ]
            }
          ],
          "resolve": {"scale": {"stroke": "independent"}, "legend": {"stroke": "independent"}},
          "title": {"text": "(b) Error value of ANFIS", "orient": "bottom", "font": "DejaVu Serif", "fontSize": 24, "color": "#111111", "offset": 4, "dx": 133}
        },
        {
          "vconcat": [
            {
              "width": 461, "height": 247,
              "title": {"text": "Error Mean = 6.2044e-07, Error St.D. = 0.0078383", "fontSize": 11, "offset": 0},
              "layer": [
                {
                  "data": {"name": "hist"},
                  "mark": {"type": "bar", "fill": "#0072BD", "stroke": "#17385e", "strokeWidth": 0.6},
                  "encoding": {
                    "x": {"field": "x0", "type": "quantitative", "title": "Errors", "scale": {"domain": [-0.1142, 0.0898], "nice": false, "zero": false},
                          "axis": {"values": [-0.1, -0.08, -0.06, -0.04, -0.02, 0, 0.02, 0.04, 0.06, 0.08], "tickCount": 30, "labelExpr": "toString(datum.value)", "grid": false, "labelFontSize": 10.5, "titleFontSize": 11.5, "labelPadding": 8, "titlePadding": 4}},
                    "x2": {"field": "x1"},
                    "y": {"field": "count", "type": "quantitative", "title": "Histogram", "scale": {"domain": [0, 14000], "nice": false},
                          "axis": {"values": [0, 2000, 4000, 6000, 8000, 10000, 12000, 14000], "tickCount": 30, "labelExpr": "toString(datum.value)", "grid": false, "labelFontSize": 10.5, "titleFontSize": 11.5, "labelPadding": 8, "titlePadding": 4}},
                    "y2": {"datum": 0}
                  }
                },
                {
                  "data": {"name": "curve"},
                  "mark": {"type": "line", "color": "#ff2a2a", "strokeWidth": 1},
                  "encoding": {
                    "x": {"field": "e", "type": "quantitative", "title": "Errors", "scale": {"domain": [-0.1142, 0.0898], "nice": false, "zero": false}},
                    "y": {"field": "f", "type": "quantitative", "title": "Histogram", "scale": {"domain": [0, 14000], "nice": false}}
                  }
                }
              ]
            }
          ],
          "title": {"text": "(c) Histogram of predicted error", "orient": "bottom", "font": "DejaVu Serif", "fontSize": 24, "color": "#111111", "offset": 10, "dx": 75}
        }
      ],
      "spacing": 7,
      "resolve": {"scale": {"stroke": "independent"}, "legend": {"stroke": "independent"}}
    }
  ],
  "spacing": 6,
  "resolve": {"scale": {"stroke": "independent"}, "legend": {"stroke": "independent"}},
  "config": {
    "font": "Liberation Sans",
    "view": {"stroke": "#4a4a4a", "strokeWidth": 0.8},
    "axis": {"domain": false, "ticks": true, "tickSize": -4, "tickColor": "#4a4a4a", "tickWidth": 0.8, "labelColor": "#333333", "titleColor": "#333333", "titleFontWeight": "normal", "gridColor": "#e2e2e2", "gridWidth": 0.8, "labelFont": "Liberation Sans", "titleFont": "Liberation Sans", "labelFlush": false, "labelOverlap": false},
    "title": {"font": "Liberation Sans", "fontWeight": "normal", "color": "#262626"},
    "legend": {"labelFont": "Liberation Sans", "labelColor": "#111111"}
  }
}
